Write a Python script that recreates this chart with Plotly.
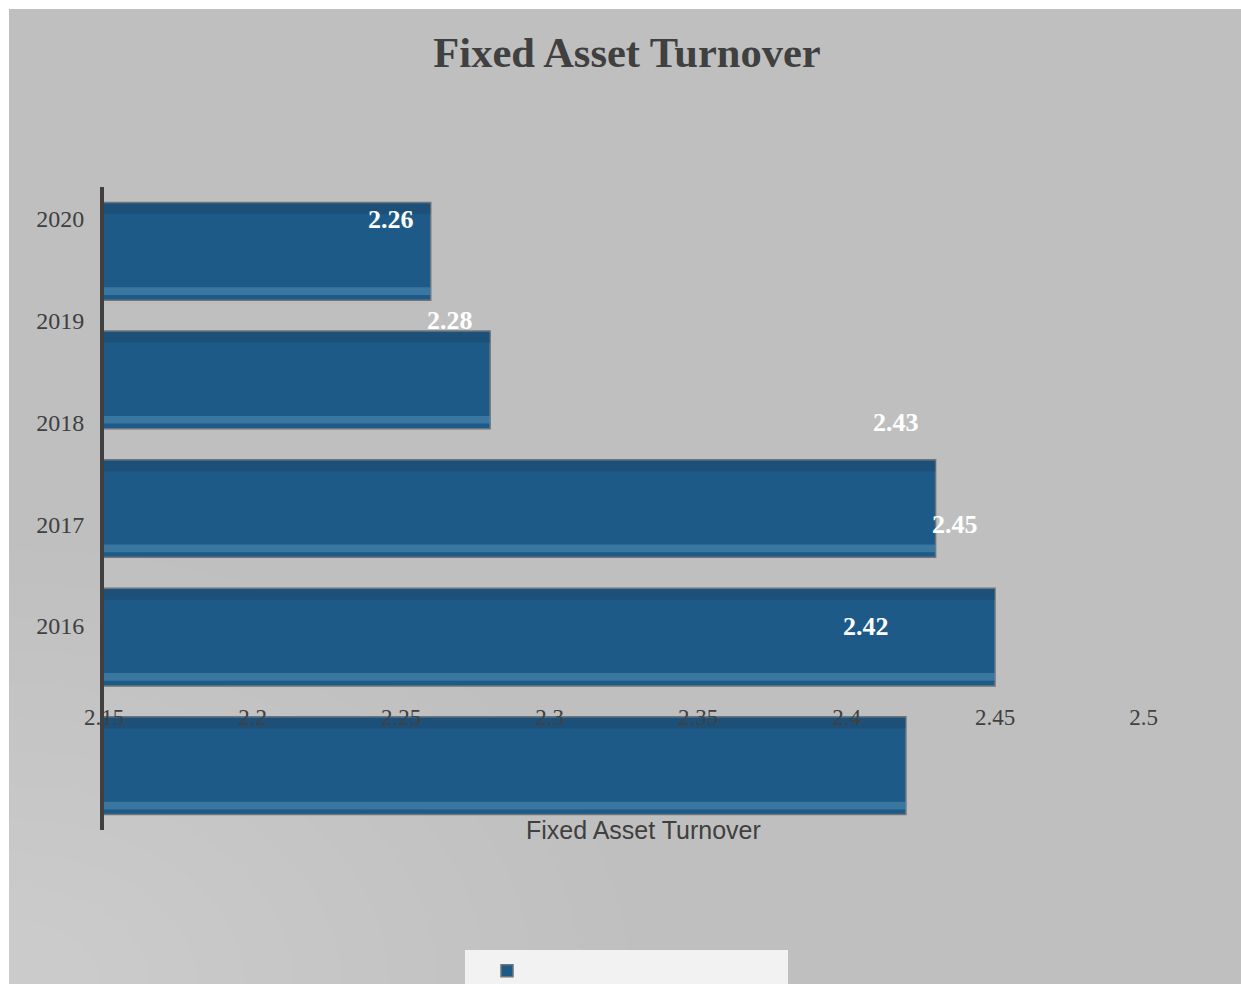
import plotly.graph_objects as go

# ---- data ----
years = ["2020", "2019", "2018", "2017", "2016"]
turnover = [2.26, 2.28, 2.43, 2.45, 2.42]
x_ticks = [2.15, 2.2, 2.25, 2.3, 2.35, 2.4, 2.45, 2.5]
x_tick_labels = ["2.15", "2.2", "2.25", "2.3", "2.35", "2.4", "2.45", "2.5"]
title_text = "Fixed Asset Turnover"
axis_title = "Fixed Asset Turnover"

W, H = 1241, 984
PL, PR, PT, PB = 104, 1160, 187, 830   # plot area in page pixels
L, T = PL, PT
R, B = W - PR, H - PB
pw, ph = W - L - R, H - T - B

def px_x(p):
    return (p - PL) / pw

def px_y(p):
    return (PB - p) / ph

TXT = "#404040"
SERIF = "Liberation Serif, Times New Roman, serif"
BAR = "#1d5a87"

fig = go.Figure()

# main bars
fig.add_trace(go.Bar(
    x=turnover, y=years, orientation="h",
    marker=dict(color=BAR, line=dict(color="#6e7478", width=1.5)),
    width=0.76, name=" ", showlegend=True, hoverinfo="x+y",
    xaxis="x", yaxis="y",
))
# darker band at the top edge (bevel look)
fig.add_trace(go.Bar(
    x=turnover, y=years, orientation="h",
    marker=dict(color="rgba(30,60,90,0.3)", line=dict(width=0)),
    width=0.08, offset=-0.37, showlegend=False, hoverinfo="skip",
    xaxis="x", yaxis="y",
))
# light band at the lower edge (bevel look)
fig.add_trace(go.Bar(
    x=turnover, y=years, orientation="h",
    marker=dict(color="rgba(85,145,185,0.5)", line=dict(width=0)),
    width=0.06, offset=0.28, showlegend=False, hoverinfo="skip",
    xaxis="x", yaxis="y",
))
# invisible trace carrying the category label axis
fig.add_trace(go.Scatter(
    x=turnover, y=years, mode="markers", marker=dict(opacity=0, size=1),
    showlegend=False, hoverinfo="skip", xaxis="x", yaxis="y2",
))

annotations = []
for i, v in enumerate(turnover):
    annotations.append(dict(
        x=v, y=i, xref="x", yref="y2", text=f"<b>{v:.2f}</b>",
        showarrow=False, xanchor="right", yanchor="middle", xshift=-15,
        font=dict(family=SERIF, size=26, color="white"),
    ))
annotations.append(dict(
    x=px_x(643), y=px_y(830), xref="paper", yref="paper", text=axis_title,
    showarrow=False, xanchor="center", yanchor="middle",
    font=dict(family="Liberation Sans, Arial, sans-serif", size=25, color=TXT),
))

shapes = [
    dict(type="rect", xref="paper", yref="paper", layer="below",
         x0=px_x(9), x1=px_x(1260), y0=px_y(1000), y1=px_y(9),
         fillcolor="#bfbfbf", line=dict(width=0)),
]
# soft light glow in the bottom-left corner
for k in range(12):
    r = 620 - k * 48
    shapes.append(dict(
        type="circle", xref="paper", yref="paper", layer="below",
        x0=px_x(9 - r), x1=px_x(9 + r), y0=px_y(984 + r * 0.7), y1=px_y(984 - r * 0.7),
        fillcolor="rgba(255,255,255,0.028)", line=dict(width=0)))

fig.update_layout(
    width=W, height=H,
    margin=dict(l=L, r=R, t=T, b=B, autoexpand=False),
    paper_bgcolor="white", plot_bgcolor="rgba(0,0,0,0)",
    title=dict(text=f"<b>{title_text}</b>", x=627 / W, xref="container", xanchor="center",
               y=1 - 52 / H, yref="container", yanchor="middle",
               font=dict(family=SERIF, size=42.5, color=TXT)),
    barmode="overlay",
    xaxis=dict(range=[2.15, 2.15 + pw / 2970], tickvals=x_ticks, ticktext=x_tick_labels,
               anchor="free", position=px_y(701), showgrid=False, zeroline=False,
               showline=False, ticks="",
               tickfont=dict(family=SERIF, size=23, color=TXT)),
    yaxis=dict(type="category", categoryarray=years, range=[4.5, -0.5],
               showticklabels=False, showgrid=False, zeroline=False,
               showline=True, linecolor=TXT, linewidth=4, ticks=""),
    yaxis2=dict(type="category", categoryarray=years, overlaying="y", anchor="x", side="left",
                range=[(830 - 219) / 101.75, (187 - 219) / 101.75],
                showgrid=False, zeroline=False, showline=False,
                ticks="outside", ticklen=14, tickcolor="rgba(0,0,0,0)",
                tickfont=dict(family=SERIF, size=24, color=TXT)),
    legend=dict(x=px_x(465), y=px_y(950), xanchor="left", yanchor="top",
                bgcolor="#f2f2f2", orientation="h", entrywidth=256,
                indentation=22,
                font=dict(size=22, color=TXT), itemwidth=30),
    annotations=annotations,
    shapes=shapes,
    showlegend=True,
)

fig.write_html("out.html",
               config={"displayModeBar": False},
               post_script="document.body.style.margin='0px';document.body.style.overflow='hidden';")
